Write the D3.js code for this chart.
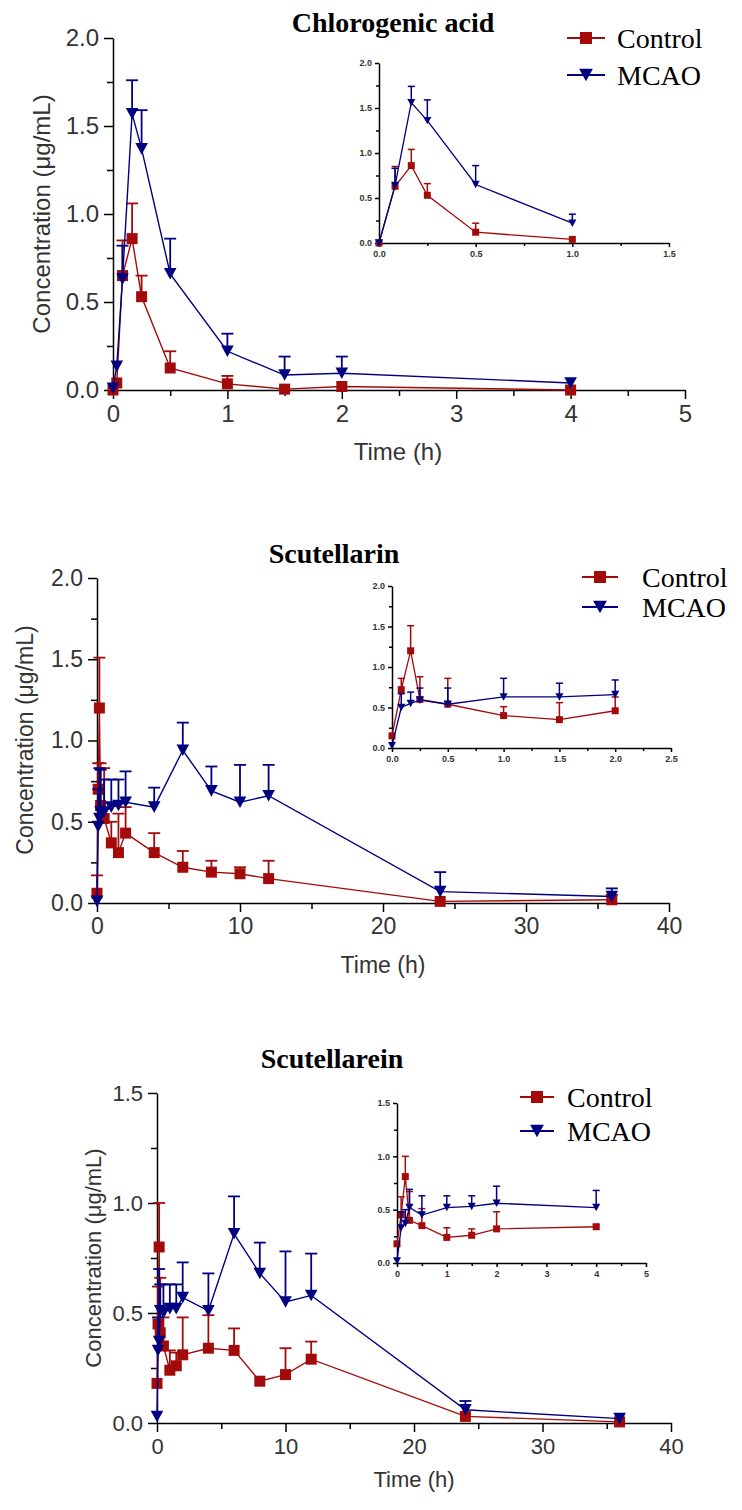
<!DOCTYPE html>
<html><head><meta charset="utf-8">
<script src="https://cdn.jsdelivr.net/npm/d3@7"></script>
<style>body{margin:0;background:#fff} svg{display:block}</style>
</head><body>
<svg id="c" width="742" height="1510"></svg>
<script>
// ---------------- DATA ----------------
const groups = ["Control", "MCAO"];
const titles = ["Chlorogenic acid", "Scutellarin", "Scutellarein"];
const yLabel = "Concentration (\u03bcg/mL)";
const xLabel = "Time (h)";

// Panel 1: Chlorogenic acid (main)
const p1Time = [0, 0.033, 0.083, 0.167, 0.25, 0.5, 1, 1.5, 2, 4];
const p1Control = [0.00, 0.04, 0.65, 0.86, 0.53, 0.125, 0.035, 0.005, 0.02, 0.00];
const p1ControlTop = [null, null, 0.85, 1.06, 0.65, 0.22, 0.08, null, null, null];
const p1Mcao = [0.01, 0.135, 0.63, 1.57, 1.37, 0.66, 0.22, 0.085, 0.095, 0.04];
const p1McaoTop = [null, null, 0.82, 1.76, 1.59, 0.86, 0.32, 0.19, 0.19, null];
const p1XTicks = [0, 1, 2, 3, 4, 5];
const p1YTicks = [0, 0.5, 1.0, 1.5, 2.0];
// Panel 1 inset
const p1iTime = [0, 0.083, 0.167, 0.25, 0.5, 1];
const p1iControl = [0, 0.63, 0.86, 0.53, 0.12, 0.04];
const p1iControlTop = [null, 0.85, 1.04, 0.66, 0.22, null];
const p1iMcao = [0, 0.64, 1.56, 1.36, 0.65, 0.22];
const p1iMcaoTop = [null, 0.83, 1.74, 1.59, 0.86, 0.32];
const p1iXTicks = [0, 0.5, 1.0, 1.5];
const p1iYTicks = [0, 0.5, 1.0, 1.5, 2.0];

// Panel 2: Scutellarin (main)
const p2Time = [0, 0.083, 0.167, 0.25, 0.5, 1, 1.5, 2, 4, 6, 8, 10, 12, 24, 36];
const p2Control = [0.06, 0.70, 1.20, 0.60, 0.52, 0.37, 0.31, 0.43, 0.31, 0.22, 0.19, 0.18, 0.15, 0.01, 0.02];
const p2ControlTop = [0.17, 0.86, 1.51, 0.86, 0.83, 0.50, 0.55, 0.59, 0.43, 0.32, 0.26, 0.22, 0.26, null, 0.05];
const p2Mcao = [0.01, 0.47, 0.52, 0.56, 0.56, 0.59, 0.60, 0.62, 0.59, 0.94, 0.69, 0.62, 0.66, 0.07, 0.04];
const p2McaoTop = [null, 0.70, 0.83, 0.82, 0.76, 0.76, 0.76, 0.81, 0.71, 1.11, 0.84, 0.85, 0.85, 0.19, 0.09];
const p2XTicks = [0, 10, 20, 30, 40];
const p2YTicks = [0, 0.5, 1.0, 1.5, 2.0];
// Panel 2 inset
const p2iTime = [0, 0.083, 0.167, 0.25, 0.5, 1, 1.5, 2];
const p2iControl = [0.15, 0.72, 1.20, 0.60, 0.54, 0.40, 0.35, 0.46];
const p2iControlTop = [null, 0.86, 1.51, 0.88, 0.86, 0.51, 0.56, 0.63];
const p2iMcao = [0.03, 0.50, 0.55, 0.59, 0.54, 0.63, 0.63, 0.66];
const p2iMcaoTop = [null, 0.67, 0.69, 0.74, 0.74, 0.86, 0.80, 0.84];
const p2iXTicks = [0, 0.5, 1.0, 1.5, 2.0, 2.5];
const p2iYTicks = [0, 0.5, 1.0, 1.5, 2.0];

// Panel 3: Scutellarein (main)
const p3Time = [0, 0.083, 0.167, 0.25, 0.5, 1, 1.5, 2, 4, 6, 8, 10, 12, 24, 36];
const p3Control = [0.18, 0.45, 0.80, 0.41, 0.35, 0.24, 0.26, 0.31, 0.34, 0.33, 0.19, 0.22, 0.29, 0.03, 0.005];
const p3ControlTop = [null, 0.62, 1.00, 0.66, 0.48, 0.33, 0.32, 0.48, 0.49, 0.43, null, 0.34, 0.37, null, null];
const p3Mcao = [0.03, 0.33, 0.37, 0.51, 0.50, 0.52, 0.52, 0.57, 0.51, 0.86, 0.68, 0.55, 0.58, 0.06, 0.02];
const p3McaoTop = [null, 0.48, 0.70, 0.63, 0.63, 0.63, 0.63, 0.73, 0.68, 1.03, 0.82, 0.78, 0.77, 0.10, null];
const p3XTicks = [0, 10, 20, 30, 40];
const p3YTicks = [0, 0.5, 1.0, 1.5];
// Panel 3 inset
const p3iTime = [0, 0.083, 0.167, 0.25, 0.5, 1, 1.5, 2, 4];
const p3iControl = [0.18, 0.45, 0.81, 0.40, 0.35, 0.24, 0.26, 0.32, 0.34];
const p3iControlTop = [null, 0.62, 1.00, 0.67, 0.51, 0.33, 0.32, 0.48, 0.36];
const p3iMcao = [0.02, 0.33, 0.37, 0.52, 0.45, 0.52, 0.53, 0.56, 0.52];
const p3iMcaoTop = [null, 0.48, 0.50, 0.69, 0.63, 0.63, 0.63, 0.72, 0.68];
const p3iXTicks = [0, 1, 2, 3, 4, 5];
const p3iYTicks = [0, 0.5, 1.0, 1.5];

// ---------------- STYLE / LAYOUT ----------------
const COLORS = {Control: "#a30b0b", MCAO: "#000080"};
const SANS = "Arial, 'Liberation Sans', sans-serif";
const SERIF = "'Times New Roman', 'Liberation Serif', serif";
const svg = d3.select("#c");

function marker(g, type, x, y, s, color) {
  if (type === "Control") {
    g.append("rect").attr("x", x - s / 2).attr("y", y - s / 2)
      .attr("width", s).attr("height", s).attr("fill", color);
  } else {
    const w = s * 1.15, h = s * 1.05;
    g.append("path").attr("d", `M${x - w / 2},${y - h / 2}L${x + w / 2},${y - h / 2}L${x},${y + h / 2}Z`)
      .attr("fill", color);
  }
}

function drawAxes(g, x, y, xt, yt, o) {
  const xMinor = [];
  for (let i = 0; i < xt.length - 1; i++) xMinor.push((xt[i] + xt[i + 1]) / 2);
  const yMinor = [];
  for (let i = 0; i < yt.length - 1; i++) yMinor.push((yt[i] + yt[i + 1]) / 2);
  const fmtY = d => d3.format(".1f")(d);
  const fmtX = o.xFmt;
  const y0 = y.range()[0], x0 = x.range()[0];

  const ax = g.append("g").attr("transform", `translate(0,${y0})`)
    .call(d3.axisBottom(x).tickValues(xt).tickFormat(fmtX).tickSize(o.major).tickSizeOuter(0).tickPadding(o.padX));
  g.append("g").attr("transform", `translate(0,${y0})`)
    .call(d3.axisBottom(x).tickValues(xMinor).tickFormat("").tickSize(o.minor).tickSizeOuter(0))
    .select(".domain").remove();
  const ay = g.append("g").attr("transform", `translate(${x0},0)`)
    .call(d3.axisLeft(y).tickValues(yt).tickFormat(fmtY).tickSize(o.major).tickSizeOuter(0).tickPadding(o.padY));
  g.append("g").attr("transform", `translate(${x0},0)`)
    .call(d3.axisLeft(y).tickValues(yMinor).tickFormat("").tickSize(o.minor).tickSizeOuter(0))
    .select(".domain").remove();
  g.selectAll(".domain").attr("stroke", "#000").attr("stroke-width", o.axisW);
  g.selectAll(".tick line").attr("stroke", "#000").attr("stroke-width", o.axisW);
  [ax, ay].forEach(a => a.selectAll("text").attr("font-family", SANS).attr("font-size", o.font)
    .attr("fill", "#333").attr("font-weight", o.bold ? "bold" : "normal"));
}

function drawSeries(g, x, y, time, vals, tops, type, o) {
  const color = COLORS[type];
  const pts = time.map((t, i) => ({t, v: vals[i], top: tops[i]}));
  const line = d3.line().x(d => x(d.t)).y(d => y(d.v));
  g.append("path").datum(pts).attr("d", line).attr("fill", "none")
    .attr("stroke", color).attr("stroke-width", o.lineW);
  pts.forEach(d => {
    if (d.top != null) {
      g.append("line").attr("x1", x(d.t)).attr("x2", x(d.t)).attr("y1", y(d.v)).attr("y2", y(d.top))
        .attr("stroke", color).attr("stroke-width", o.errW);
      g.append("line").attr("x1", x(d.t) - o.cap / 2).attr("x2", x(d.t) + o.cap / 2)
        .attr("y1", y(d.top)).attr("y2", y(d.top)).attr("stroke", color).attr("stroke-width", o.errW);
    }
  });
  pts.forEach(d => marker(g, type, x(d.t), y(d.v), o.ms, color));
}

function panel(cfg) {
  const g = svg.append("g");
  // main
  const x = d3.scaleLinear().domain([cfg.xt[0], cfg.xt[cfg.xt.length - 1]]).range(cfg.xr);
  const y = d3.scaleLinear().domain([cfg.yt[0], cfg.yt[cfg.yt.length - 1]]).range(cfg.yr);
  const mainOpt = {major: 9, minor: 6, axisW: 2, font: cfg.tickFont, padX: 6, padY: 5, xFmt: d3.format("d")};
  drawAxes(g, x, y, cfg.xt, cfg.yt, mainOpt);
  const so = {lineW: 1.4, errW: 1.8, cap: 12, ms: 11};
  drawSeries(g, x, y, cfg.time, cfg.control, cfg.controlTop, "Control", so);
  drawSeries(g, x, y, cfg.time, cfg.mcao, cfg.mcaoTop, "MCAO", so);

  // inset
  const xi = d3.scaleLinear().domain([cfg.ixt[0], cfg.ixt[cfg.ixt.length - 1]]).range(cfg.ixr);
  const yi = d3.scaleLinear().domain([cfg.iyt[0], cfg.iyt[cfg.iyt.length - 1]]).range(cfg.iyr);
  const insOpt = {major: 4, minor: 3, axisW: 1.5, font: 9, padX: 4, padY: 3, bold: true, xFmt: cfg.ixFmt};
  drawAxes(g, xi, yi, cfg.ixt, cfg.iyt, insOpt);
  const io = {lineW: 1.3, errW: 1.5, cap: 7, ms: 7};
  drawSeries(g, xi, yi, cfg.itime, cfg.icontrol, cfg.icontrolTop, "Control", io);
  drawSeries(g, xi, yi, cfg.itime, cfg.imcao, cfg.imcaoTop, "MCAO", io);

  // title
  g.append("text").attr("x", cfg.title[0]).attr("y", cfg.title[1]).attr("text-anchor", "middle")
    .attr("font-family", SERIF).attr("font-weight", "bold").attr("font-size", 28).text(cfg.titleText);
  // axis labels
  g.append("text").attr("transform", `translate(${cfg.ylab[0]},${cfg.ylab[1]}) rotate(-90)`)
    .attr("text-anchor", "middle").attr("dominant-baseline", "central")
    .attr("font-family", SANS).attr("font-size", cfg.labFont).attr("fill", "#333").text(yLabel);
  g.append("text").attr("x", cfg.xlab[0]).attr("y", cfg.xlab[1]).attr("text-anchor", "middle")
    .attr("font-family", SANS).attr("font-size", cfg.labFont).attr("fill", "#333").text(xLabel);
  // legend
  groups.forEach((name, i) => {
    const ly = cfg.leg.y[i];
    g.append("line").attr("x1", cfg.leg.x1).attr("x2", cfg.leg.x2).attr("y1", ly).attr("y2", ly)
      .attr("stroke", COLORS[name]).attr("stroke-width", 2);
    marker(g, name, (cfg.leg.x1 + cfg.leg.x2) / 2, ly, 12, COLORS[name]);
    g.append("text").attr("x", cfg.leg.tx).attr("y", ly).attr("dominant-baseline", "central")
      .attr("font-family", SERIF).attr("font-size", 28).attr("fill", "#000").text(name);
  });
}

panel({
  titleText: titles[0], title: [393, 32],
  xt: p1XTicks, yt: p1YTicks, xr: [113, 685], yr: [390, 38],
  time: p1Time, control: p1Control, controlTop: p1ControlTop, mcao: p1Mcao, mcaoTop: p1McaoTop,
  ixt: p1iXTicks, iyt: p1iYTicks, ixr: [379, 669], iyr: [243, 63], ixFmt: d3.format(".1f"),
  itime: p1iTime, icontrol: p1iControl, icontrolTop: p1iControlTop, imcao: p1iMcao, imcaoTop: p1iMcaoTop,
  ylab: [41, 214], xlab: [398, 460], tickFont: 24, labFont: 24,
  leg: {x1: 567, x2: 605, tx: 617, y: [38, 75]}
});
panel({
  titleText: titles[1], title: [334, 563],
  xt: p2XTicks, yt: p2YTicks, xr: [97, 669], yr: [903, 578],
  time: p2Time, control: p2Control, controlTop: p2ControlTop, mcao: p2Mcao, mcaoTop: p2McaoTop,
  ixt: p2iXTicks, iyt: p2iYTicks, ixr: [392, 671], iyr: [748, 586], ixFmt: d3.format(".1f"),
  itime: p2iTime, icontrol: p2iControl, icontrolTop: p2iControlTop, imcao: p2iMcao, imcaoTop: p2iMcaoTop,
  ylab: [25, 740], xlab: [383, 973], tickFont: 23, labFont: 23,
  leg: {x1: 582, x2: 618, tx: 642, y: [577, 607]}
});
panel({
  titleText: titles[2], title: [332, 1068],
  xt: p3XTicks, yt: p3YTicks, xr: [157, 671], yr: [1423, 1093],
  time: p3Time, control: p3Control, controlTop: p3ControlTop, mcao: p3Mcao, mcaoTop: p3McaoTop,
  ixt: p3iXTicks, iyt: p3iYTicks, ixr: [397, 646], iyr: [1263, 1103], ixFmt: d3.format("d"),
  itime: p3iTime, icontrol: p3iControl, icontrolTop: p3iControlTop, imcao: p3iMcao, imcaoTop: p3iMcaoTop,
  ylab: [93, 1258], xlab: [414, 1487], tickFont: 22, labFont: 22,
  leg: {x1: 520, x2: 554, tx: 567, y: [1097, 1131]}
});
</script>
</body></html>
